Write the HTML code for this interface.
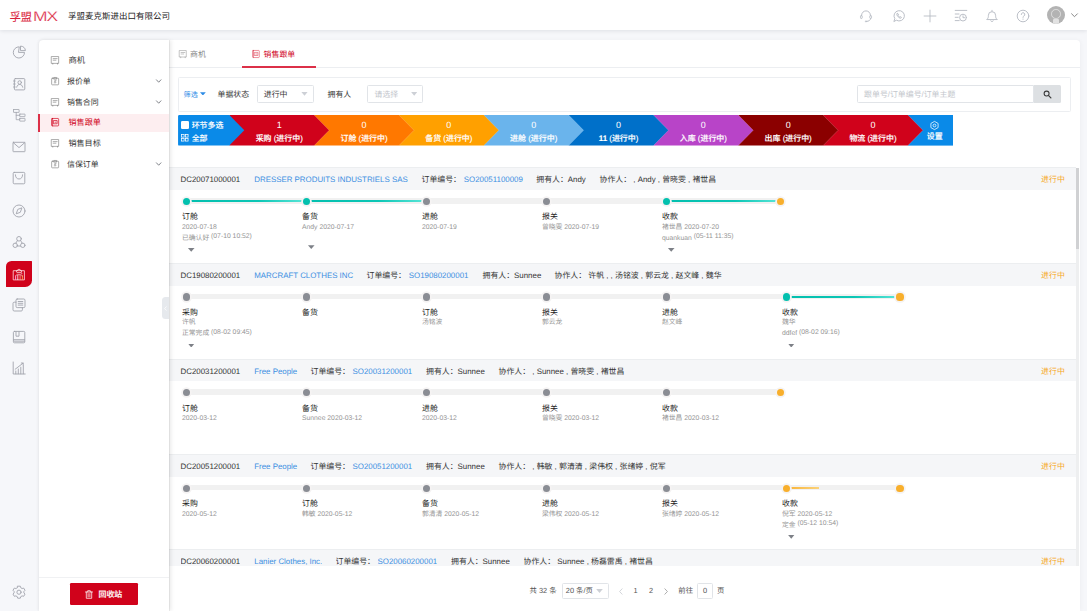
<!DOCTYPE html>
<html lang="zh"><head><meta charset="utf-8"><title>孚盟MX</title>
<style>
*{box-sizing:border-box;margin:0;padding:0}
html,body{text-rendering:geometricPrecision;width:1087px;height:611px;overflow:hidden;background:#f6f7fa;font-family:"Liberation Sans","Noto Sans CJK SC",sans-serif;font-size:7.9px;color:#333}
i{font-style:normal}
#hdr{position:absolute;left:0;top:0;width:1087px;height:30.3px;background:#fff;box-shadow:0 1px 4px rgba(0,21,41,.10);z-index:5}
#logo{position:absolute;left:9.4px;top:6.2px;height:20px;line-height:20px;color:#d9213a;font-size:11.5px;white-space:nowrap;letter-spacing:-.35px}
#logo b{display:inline-block;font-weight:normal;font-size:13.9px;letter-spacing:-.75px;margin-left:1.1px;position:relative;top:-.6px;-webkit-text-stroke:.22px #fff;transform:scaleX(1.25);transform-origin:0 50%}
#co{position:absolute;left:68px;top:6px;height:20px;line-height:20px;font-size:8.5px;color:#222;white-space:nowrap}
.hi{position:absolute;top:8.5px;width:14px;height:14px;overflow:visible}
.hi *{fill:none;stroke:#bcc0c8;stroke-width:1;stroke-linecap:round;stroke-linejoin:round}
#rail{position:absolute;left:0;top:30.5px;width:38.5px;height:581px;background:#f6f7fa}
.ri{position:absolute;left:11.5px;width:14px;height:14px;overflow:visible}
.ri *{fill:none;stroke:#a1a4ad;stroke-width:.9;stroke-linecap:round;stroke-linejoin:round}
#act{position:absolute;left:5.9px;top:230.6px;width:26.1px;height:26px;background:#d0021b;border-radius:5.5px .6px 6.800px .6px}
#side{position:absolute;left:38.5px;top:40px;width:130.5px;height:571px;background:#fff;border-radius:4px 0 0 0;box-shadow:.5px 0 0 rgba(0,0,0,.10),1.5px 0 4px rgba(0,0,0,.09),-1px 0 3px rgba(0,0,0,.04);z-index:4}
.mi{position:absolute;left:0;width:130.5px;height:17.5px;line-height:17.5px;white-space:nowrap;color:#333}
.mi span{position:absolute;left:29px;top:0}
.mi svg.ic{position:absolute;left:12.4px;top:4.3px;width:8.4px;height:8.4px;overflow:visible}
.mi svg.ic *{fill:none;stroke:#858585;stroke-width:.72;stroke-linecap:round;stroke-linejoin:round}
.mi svg.cv{position:absolute;left:117.3px;top:6.3px;width:5.4px;height:4.5px;overflow:visible}
.mi svg.cv *{fill:none;stroke:#5c6068;stroke-width:.85;stroke-linecap:round;stroke-linejoin:round}
.mi.on{background:#fdeef0;color:#d0021b;height:18.1px;line-height:18.3px}.mi.on::before{content:'';position:absolute;left:-.4px;top:0;width:1.9px;height:100%;background:#dc3048}
.mi.on span{left:30px;font-size:8.1px}
.mi.on svg.ic{left:12.7px}
.mi.on svg.ic *{stroke:#d0021b}
#trash{position:absolute;left:31px;top:542.5px;width:68px;height:22.7px;background:#d0021b;border-radius:1.2px;color:#fff;line-height:23.6px;font-size:7.9px;font-weight:500;-webkit-text-stroke:.16px #fff}
#trash span{position:absolute;left:29px;top:0}
#sep{position:absolute;left:0;top:536.6px;width:130.5px;height:1px;background:#f0f1f3}
#main{position:absolute;left:169px;top:40px;width:911px;height:571px;background:#fff;border-radius:0 4px 0 0;box-shadow:1px 0 4px rgba(0,0,0,.035)}
#coll{position:absolute;left:162.2px;top:297.1px;width:6.8px;height:22.3px;background:#e6e9ed;border-radius:3.5px 0 0 3.5px;z-index:5}
.abs{position:absolute}
#tabline{position:absolute;left:169px;top:66.8px;width:911px;height:1px;background:#eceef1}
#tabact{position:absolute;left:242px;top:66.3px;width:73.8px;height:1.4px;background:#dc3048}
.tab{position:absolute;top:45.5px;height:17.5px;line-height:17.5px;white-space:nowrap;font-size:7.9px}
#fbox{position:absolute;left:177.5px;top:77px;width:893.3px;height:34.9px;border:1px solid #eceef1;border-radius:1.5px;background:#fff}
.ft{position:absolute;top:85.6px;height:17.5px;line-height:17.5px;white-space:nowrap}
.sel{position:absolute;top:85px;height:17.5px;border:1px solid #e1e4e8;border-radius:1.5px;background:#fff;line-height:17.6px;white-space:nowrap}
.dn{position:absolute;width:6.6px;height:3.9px;background:#cdd0d6;clip-path:polygon(0 0,100% 0,50% 100%)}
.cn{font-size:9px;fill:#fff;font-family:"Liberation Sans",sans-serif}
.cl{font-size:7.95px;font-weight:500;fill:#fff;stroke:#fff;stroke-width:.16px;font-family:"Liberation Sans","Noto Sans CJK SC",sans-serif}
.rh{position:absolute;left:169px;width:907.1px;height:22.7px;background:#f5f6f8;border-top:1px solid #eceef0}
.ht{position:absolute;height:22.5px;line-height:25px;white-space:nowrap;font-size:7.9px;color:#333}
.ht.b{color:#3c8fe2}
.ht.st{color:#f5a623}
.trk{position:absolute;height:5.6px;background:#f1f1f1;border-radius:2.8px}
.ln{position:absolute;height:2.4px}
.ln.gl{background:linear-gradient(90deg,#03bfae 0%,#0cc6b5 60%,#5be6d8 100%)}
.ln.ol{background:linear-gradient(90deg,#f9b233,#fbd27a)}
.dot{position:absolute;width:7.2px;height:7.2px;border-radius:50%;box-shadow:0 0 0 1.8px #f5f3f3;background:#8a8d94}
.dot.g{background:#03c0ae}
.dot.o{background:#f8af2c}
.tt{position:absolute;height:11px;line-height:11px;font-size:7.9px;color:#222;white-space:nowrap}
.sb{position:absolute;height:10px;line-height:10px;font-size:6.8px;color:#959595;white-space:nowrap}
.sb em{font-style:normal;position:relative;top:-1.4px}
.tri{position:absolute;width:6.6px;height:3.9px;background:#7d8087;clip-path:polygon(0 0,100% 0,50% 100%)}
#pgbg{position:absolute;left:169px;top:566px;width:910.3px;height:45px;background:#fff;z-index:2}
.pg{position:absolute;z-index:3;top:582px;height:17.5px;line-height:17.5px;white-space:nowrap;font-size:7.4px;color:#555}
.pbox{position:absolute;z-index:3;top:583px;height:15.6px;border:1px solid #e1e4e8;border-radius:1.5px;background:#fff}
#sbar{position:absolute;left:1076.1px;top:167.8px;width:2.8px;height:81.5px;background:#d0d1d3;z-index:3}#strk{position:absolute;left:1076.1px;top:167.5px;width:2.8px;height:398.5px;background:#eeeff0;z-index:1}
.ri.w *{stroke:#fff}.ri.w .p{stroke:#ffc9b0}
</style></head><body>
<div id="hdr">
<div id="logo">孚盟<b>MX</b></div>
<div id="co">孚盟麦克斯进出口有限公司</div>
<!-- header icons -->
<svg class="hi" style="left:858.7px" viewBox="0 0 14 14"><path d="M2.600 6.800V6.300a4.400 4.400 0 0 1 8.800 0v.5"/><rect x="1.500" y="6.500" width="1.700" height="3" rx=".8"/><rect x="10.800" y="6.500" width="1.700" height="3" rx=".8"/><path d="M11.600 9.500c0 1.700-1.600 2.800-4 2.900"/><circle cx="7" cy="12.400" r=".6"/></svg>
<svg class="hi" style="left:892px" viewBox="0 0 14 14"><path d="M2 12.2l.8-2.6A5.2 5.2 0 1 1 4.7 11.4z"/><path d="M5.2 4.6c-.5.4-.5 1.300.3 2.400s2.200 2.300 3.100 2.200c.6-.1.900-.6.800-.9l-1-.6-.6.500c-.6-.2-1.500-1.100-1.700-1.700l.5-.6-.5-1.100c-.3-.3-.6-.3-.9-.2z"/></svg>
<svg class="hi" style="left:922.6px" viewBox="0 0 14 14"><path d="M7 1.100v11.800M1.100 7h11.800" style="stroke-width:.85;stroke:#b4b8c0"/></svg>
<svg class="hi" style="left:953.8px" viewBox="0 0 14 14"><path d="M1.200 1.400h11.600M1.200 5h3.800M1.200 8.300h3M1.200 11.600h4"/><circle cx="9" cy="8.600" r="3.400"/><path d="M9 6.800v1.900h1.500"/></svg>
<svg class="hi" style="left:984.7px" viewBox="0 0 14 14"><path d="M2 10.300c1.200-1 1.400-2 1.400-4a3.600 3.600 0 0 1 7.200 0c0 2 .2 3 1.400 4z"/><path d="M5.800 11.800a1.300 1.300 0 0 0 2.400 0"/><path d="M7 2.200V1.300"/></svg>
<svg class="hi" style="left:1016.4px" viewBox="0 0 14 14"><circle cx="7" cy="7" r="5.800"/><path d="M5.300 5.500a1.750 1.750 0 1 1 2.600 1.500c-.6.400-.9.700-.9 1.400"/><path d="M7 10v.3"/></svg>
<div class="abs" style="left:1047.3px;top:6.3px;width:18px;height:18px;border-radius:50%;background:#b3b3b3;overflow:hidden"><div class="abs" style="left:4.200px;top:3.200px;width:9.600px;height:9.600px;border-radius:50%;border:1.300px solid #dedede"></div><div class="abs" style="left:6px;top:12.500px;width:6px;height:5px;background:#e2e2e2;border-radius:1px"></div></div>
<svg class="abs" style="left:1070.5px;top:13px;width:7px;height:5px;overflow:visible" viewBox="0 0 7 5"><path d="M.6.800l2.900 2.900L6.400.8" fill="none" stroke="#888" stroke-width="1" stroke-linecap="round" stroke-linejoin="round"/></svg>
</div>
<div id="rail">
<!-- y offsets relative to rail top 30.5 -->
<svg class="ri" style="top:14.5px" viewBox="0 0 14 14"><path d="M6.900 1.800A5.600 5.600 0 1 0 12.500 7.400H6.900z"/><path d="M8.900 1.100A4.500 4.500 0 0 1 13.400 5.600H8.900z"/></svg>
<svg class="ri" style="top:46px" viewBox="0 0 14 14"><rect x="2.400" y="1.600" width="10.400" height="11.300" rx=".9"/><path d="M1.400 4h1.900M1.400 7h1.900M1.400 10h1.900" style="stroke-width:.75"/><circle cx="7.700" cy="5.500" r="1.750"/><path d="M4.700 10.200c.4-1.900 1.500-2.700 3-2.700s2.600.8 3 2.700"/></svg>
<svg class="ri" style="top:77.800px" viewBox="0 0 14 14"><rect x="1.500" y="1.500" width="5.600" height="2.900" rx=".2" style="stroke-width:.8"/><rect x="7.700" y="6.100" width="5.300" height="2.500" rx=".2" style="stroke-width:.8"/><rect x="7.700" y="10.400" width="5.300" height="2.700" rx=".2" style="stroke-width:.8"/><path d="M4.200 4.400v7.300h3.500M4.200 7.300h3.500" style="stroke-width:.8"/></svg>
<svg class="ri" style="top:109.300px" viewBox="0 0 14 14"><rect x="1" y="2.300" width="12" height="9.400" rx=".5"/><path d="M1.200 2.600l5.800 5 5.800-5"/></svg>
<svg class="ri" style="top:140.500px" viewBox="0 0 14 14"><rect x="1.200" y="1.400" width="11.600" height="11.400" rx="1"/><path d="M3.400 3.800c0 2.600 1.500 4.200 3.600 4.200s3.600-1.600 3.600-4.200"/></svg>
<svg class="ri" style="top:173.400px" viewBox="0 0 14 14"><circle cx="7" cy="7" r="6"/><path d="M9.800 4.200L8.300 8.300 4.200 9.800l1.500-4.100z"/></svg>
<svg class="ri" style="top:204.500px" viewBox="0 0 14 14"><circle cx="7" cy="3.800" r="2.300"/><circle cx="3.200" cy="10.300" r="2.200"/><circle cx="10.800" cy="10.300" r="2.200"/><path d="M5.400 5.600L3.800 8.200M8.600 5.600l1.600 2.600M5.400 11h3.200"/></svg>
<div id="act"></div>
<svg class="ri w" style="top:236.800px" viewBox="0 0 14 14"><path d="M1.600 3.700h10.800v9.200H1.600z" style="stroke:#ffdfe2;stroke-width:.8;stroke-linejoin:miter"/><path d="M4.400 4.500c-.2-1 .8-1.500 1.500-1.200.2-1.400 2-1.400 2.200 0 .7-.3 1.700.2 1.500 1.200M5 5.700h4.300c.5 0 .8.500.5.900" style="stroke:#fff;stroke-width:.75"/><path d="M3.600 12.600V9.300c0-1 .9-1.600 1.900-1.600h3c1 0 1.900.6 1.900 1.600" style="stroke:#ffdfe2;stroke-width:.7"/><path d="M3.600 12.600V9" style="stroke:#ff86c8;stroke-width:.85"/><path d="M5.800 12.600V8.300" style="stroke:#fff;stroke-width:.8"/><path d="M8.100 12.600V8.300" style="stroke:#ffa792;stroke-width:.8"/><path d="M10.400 12.600V8.800" style="stroke:#ffa94d;stroke-width:.85"/></svg>
<svg class="ri" style="top:267.500px" viewBox="0 0 14 14"><rect x="4" y="1" width="9" height="8.600" rx="1.200"/><path d="M6.200 3.500h4.600M6.200 5.300h4.600M6.200 7.100h4.600"/><path d="M4 4.200H2.200A1.200 1.200 0 0 0 1 5.400v6.400A1.200 1.200 0 0 0 2.200 13h7a1.200 1.200 0 0 0 1.200-1.200V9.600"/></svg>
<svg class="ri" style="top:299.300px" viewBox="0 0 14 14"><rect x="1.400" y="1.400" width="11.400" height="11.400" rx="1"/><path d="M4 1.600v4.600h3V1.600"/><path d="M1.600 9.700h11M2 11.200h10.600" /></svg>
<svg class="ri" style="top:330.700px" viewBox="0 0 14 14"><path d="M1.200 1v12h12"/><path d="M3.800 12.800V10M6.300 12.800V8M8.800 12.800V6.200M11.300 12.800V4.500"/><path d="M3.200 8.200L11 2.200M9.300 2h1.900v1.900"/></svg>
<svg class="ri" style="top:554.300px;left:11.800px" viewBox="0 0 14 14"><path d="M5.700 1.200h2.600l.5 1.600 1.300.7 1.600-.4 1.300 2.200-1.100 1.200v1.400l1.100 1.200-1.300 2.200-1.600-.4-1.300.7-.5 1.600H5.700l-.5-1.600-1.300-.7-1.600.4L1 9.100l1.100-1.200V6.500L1 5.300l1.300-2.200 1.600.4 1.300-.7z"/><circle cx="7" cy="7.200" r="2.100"/></svg>
</div>
<div id="side">
<div class="mi" style="top:11.800px"><svg class="ic" viewBox="0 0 9 9"><path d="M.7.600h7.500v7.300H.7z"/><path d="M2.300 2.800h4.300M2.300 4.500h3"/><path d="M1.900 7.900v.8M7 7.900v.8"/></svg><span style="left:29.900px;font-size:8.400px">商机</span></div>
<div class="mi" style="top:32.500px"><svg class="ic" viewBox="0 0 9 9"><rect x=".7" y="1.300" width="7.500" height="7.100" rx=".7"/><path d="M2.900 1.900V.5h3.100v1.400z"/><path d="M5.400 3.900H4.100c-.55 0-.55 1.100 0 1.100h.8c.6 0 .6 1.200 0 1.200H3.500"/></svg><span style="left:28.500px">报价单</span><svg class="cv" viewBox="0 0 6 5"><path d="M.5.900l2.500 2.700L5.500.9"/></svg></div>
<div class="mi" style="top:53.600px"><svg class="ic" viewBox="0 0 9 9"><path d="M.7.600h7.500v7.300H.7z"/><path d="M2.300 2.800h4.300M2.300 4.500h3"/><path d="M1.900 7.900v.8M7 7.900v.8"/></svg><span style="left:28.500px">销售合同</span><svg class="cv" viewBox="0 0 6 5"><path d="M.5.900l2.500 2.700L5.500.9"/></svg></div>
<div class="mi on" style="top:74px"><svg class="ic" viewBox="0 0 9 9"><path d="M1.300.500h6.200c.4 0 .7.300.7.700v6.600c0 .4-.3.700-.7.700H1.300c-.4 0-.7-.3-.7-.7V1.200c0-.4.300-.7.700-.7z"/><path d="M1.700.600v7.800"/><rect x="3" y="2.700" width="3.600" height="3.500"/><path d="M4.200 4.500h1.200"/></svg><span>销售跟单</span></div>
<div class="mi" style="top:95px"><svg class="ic" viewBox="0 0 9 9"><path d="M.7.600h7.500v7.300H.7z"/><path d="M2.300 2.800h4.300M2.300 4.500h3"/><path d="M1.900 7.900v.8M7 7.900v.8"/></svg><span style="left:29.900px;font-size:8.100px">销售目标</span></div>
<div class="mi" style="top:116px"><svg class="ic" viewBox="0 0 9 9"><rect x=".7" y="1.300" width="7.500" height="7.100" rx=".7"/><path d="M2.900 1.900V.5h3.100v1.400z"/><path d="M5.400 3.900H4.100c-.55 0-.55 1.100 0 1.100h.8c.6 0 .6 1.200 0 1.200H3.500"/></svg><span style="left:28.500px">信保订单</span><svg class="cv" viewBox="0 0 6 5"><path d="M.5.900l2.500 2.700L5.500.9"/></svg></div>
<div id="sep"></div>
<div id="trash"><svg class="abs" style="left:15.800px;top:7px;width:8px;height:9px;overflow:visible" viewBox="0 0 8 9"><path d="M.5 2h7M2.700 2V.7h2.600V2M1.300 2v6.300h5.400V2M3.100 3.600v3.300M4.900 3.600v3.300" fill="none" stroke="#fff" stroke-width=".75" stroke-linecap="round" stroke-linejoin="round"/></svg><span>回收站</span></div>
</div>
<div id="main"></div>
<div id="coll"><svg class="abs" style="left:1.600px;top:8.500px;width:3px;height:5px;overflow:visible" viewBox="0 0 3 5"><path d="M2.500.5L.6 2.500l1.900 2" fill="none" stroke="#fff" stroke-width=".8"/></svg></div>
<!-- tabs -->
<div id="tabline"></div><div id="tabl"></div><div id="tabact"></div>
<svg class="abs" style="left:179px;top:49.500px;width:8px;height:8px;overflow:visible" viewBox="0 0 9 9"><g fill="none" stroke="#9a9a9a" stroke-width=".65" stroke-linejoin="round" stroke-linecap="round"><path d="M.7.600h7.500v7.300H.7z"/><path d="M2.300 2.800h4.300M2.300 4.500h3"/><path d="M1.900 7.900v.8M7 7.900v.8"/></g></svg>
<span class="tab" style="left:190px;color:#888">商机</span>
<svg class="abs" style="left:252.300px;top:49.500px;width:8px;height:8px;overflow:visible" viewBox="0 0 9 9"><g fill="none" stroke="#dc3a50" stroke-width=".62" stroke-linejoin="round" stroke-linecap="round"><path d="M1.300.500h6.200c.4 0 .7.300.7.700v6.600c0 .4-.3.700-.7.700H1.300c-.4 0-.7-.3-.7-.7V1.200c0-.4.300-.7.700-.7z"/><path d="M1.700.600v7.800"/><rect x="3" y="2.700" width="3.600" height="3.500"/><path d="M4.200 4.500h1.200"/></g></svg>
<span class="tab" style="left:263.600px;color:#d0021b">销售跟单</span>
<!-- filter -->
<div id="fbox"></div>
<span class="ft" style="left:183.600px;top:86.500px;color:#2e8ce6;font-size:7.100px">筛选</span>
<i class="dn" style="left:200px;top:92.200px;background:#2e8ce6;width:5.800px;height:3.300px"></i>
<span class="ft" style="left:217.500px">单据状态</span>
<div class="sel" style="left:256.800px;width:57px"><span class="abs" style="left:6px;top:0">进行中</span></div>
<i class="dn" style="left:301.200px;top:91.800px"></i>
<span class="ft" style="left:327.500px">拥有人</span>
<div class="sel" style="left:367px;width:56.300px"><span class="abs" style="left:6.500px;top:0;color:#c3c6cc;font-size:7.900px">请选择</span></div>
<i class="dn" style="left:410.900px;top:91.800px"></i>
<div class="sel" style="left:857.300px;width:177.200px;border-radius:1.500px 0 0 1.500px"><span class="abs" style="left:5.800px;top:0;color:#c3c6cc;font-size:7.900px">跟单号/订单编号/订单主题</span></div>
<div class="abs" style="left:1033.700px;top:85px;width:27.300px;height:17.500px;background:#dde0e3;border-radius:0 1.500px 1.500px 0"><svg class="abs" style="left:9.300px;top:4.600px;width:9px;height:9px;overflow:visible" viewBox="0 0 8 8"><circle cx="3.200" cy="3.200" r="2.200" fill="none" stroke="#3a3a3a" stroke-width=".95"/><path d="M5 5l2 2" stroke="#3a3a3a" stroke-width="1.150" stroke-linecap="round"/></svg></div>
<svg id="chev" width="775.5" height="30.6" viewBox="0 0 775.5 30.6" style="position:absolute;left:177.5px;top:115.2px"><rect x="729.97" y="0" width="45.52999999999997" height="30.6" fill="#0a8ae8"/><polygon points="645.13,0 729.97,0 744.97,15.3 729.97,30.6 645.13,30.6" fill="#d0021b"/><polyline points="729.97,0 744.97,15.3 729.97,30.6" fill="none" stroke="rgba(255,255,255,.35)" stroke-width=".5"/><polygon points="560.29,0 645.13,0 660.13,15.3 645.13,30.6 560.29,30.6" fill="#8b0000"/><polyline points="645.13,0 660.13,15.3 645.13,30.6" fill="none" stroke="rgba(255,255,255,.35)" stroke-width=".5"/><polygon points="475.45,0 560.29,0 575.29,15.3 560.29,30.6 475.45,30.6" fill="#b844c8"/><polyline points="560.29,0 575.29,15.3 560.29,30.6" fill="none" stroke="rgba(255,255,255,.35)" stroke-width=".5"/><polygon points="390.61,0 475.45,0 490.45,15.3 475.45,30.6 390.61,30.6" fill="#0070c9"/><polyline points="475.45,0 490.45,15.3 475.45,30.6" fill="none" stroke="rgba(255,255,255,.35)" stroke-width=".5"/><polygon points="305.77,0 390.61,0 405.61,15.3 390.61,30.6 305.77,30.6" fill="#6ab4ec"/><polyline points="390.61,0 405.61,15.3 390.61,30.6" fill="none" stroke="rgba(255,255,255,.35)" stroke-width=".5"/><polygon points="220.93,0 305.77,0 320.77,15.3 305.77,30.6 220.93,30.6" fill="#ffa000"/><polyline points="305.77,0 320.77,15.3 305.77,30.6" fill="none" stroke="rgba(255,255,255,.35)" stroke-width=".5"/><polygon points="136.09,0 220.93,0 235.93,15.3 220.93,30.6 136.09,30.6" fill="#ff7800"/><polyline points="220.93,0 235.93,15.3 220.93,30.6" fill="none" stroke="rgba(255,255,255,.35)" stroke-width=".5"/><polygon points="51.25,0 136.09,0 151.09,15.3 136.09,30.6 51.25,30.6" fill="#d0021b"/><polyline points="136.09,0 151.09,15.3 136.09,30.6" fill="none" stroke="rgba(255,255,255,.35)" stroke-width=".5"/><path d="M1.2,0 H51.25 L66.25,15.3 L51.25,30.6 H1.2 Q0,30.6 0,29.400000000000002 V1.2 Q0,0 1.2,0z" fill="#0a8ae8"/><text x="101.17" y="12.7" text-anchor="middle" class="cn">1</text><text x="101.17" y="25.8" text-anchor="middle" class="cl">采购 (进行中)</text><text x="186.01" y="12.7" text-anchor="middle" class="cn">0</text><text x="186.01" y="25.8" text-anchor="middle" class="cl">订舱 (进行中)</text><text x="270.85" y="12.7" text-anchor="middle" class="cn">0</text><text x="270.85" y="25.8" text-anchor="middle" class="cl">备货 (进行中)</text><text x="355.69" y="12.7" text-anchor="middle" class="cn">0</text><text x="355.69" y="25.8" text-anchor="middle" class="cl">进舱 (进行中)</text><text x="440.53" y="12.7" text-anchor="middle" class="cn">0</text><text x="440.53" y="25.8" text-anchor="middle" class="cl"><tspan font-weight="bold">11</tspan> (进行中)</text><text x="525.37" y="12.7" text-anchor="middle" class="cn">0</text><text x="525.37" y="25.8" text-anchor="middle" class="cl">入库 (进行中)</text><text x="610.21" y="12.7" text-anchor="middle" class="cn">0</text><text x="610.21" y="25.8" text-anchor="middle" class="cl">出库 (进行中)</text><text x="695.05" y="12.7" text-anchor="middle" class="cn">0</text><text x="695.05" y="25.8" text-anchor="middle" class="cl">物流 (进行中)</text></svg>
<!-- first chevron block content -->
<div class="abs" style="left:180.800px;top:121px;width:8.700px;height:8.200px;background:#fff;border-radius:1.300px"></div>
<span class="abs" style="left:191.700px;top:119.900px;height:12px;line-height:12px;color:#fff;font-size:7.950px;white-space:nowrap;font-weight:500;-webkit-text-stroke:.1px #fff">环节多选</span>
<svg class="abs" style="left:181.300px;top:133.900px;width:7.500px;height:7.500px;overflow:visible" viewBox="0 0 7 7"><g fill="none" stroke="#fff" stroke-width=".7"><rect x=".4" y=".4" width="2.500" height="2.500"/><rect x="4.100" y=".4" width="2.500" height="2.500"/><rect x=".4" y="4.100" width="2.500" height="2.500"/><rect x="4.100" y="4.100" width="2.500" height="2.500"/></g></svg>
<span class="abs" style="left:191.700px;top:132.700px;height:12px;line-height:12px;color:#fff;font-size:7.950px;white-space:nowrap;font-weight:500;-webkit-text-stroke:.1px #fff">全部</span>
<!-- settings -->
<svg class="abs" style="left:930px;top:121px;width:9px;height:9px;overflow:visible" viewBox="0 0 9 9"><g fill="none" stroke="#fff" stroke-width=".75" stroke-linejoin="round"><path d="M4.500.4l3.600 2.050v4.100L4.500 8.600.9 6.550v-4.100z"/><circle cx="4.500" cy="4.500" r="1.400"/></g></svg>
<span class="abs" style="left:926.800px;top:130.500px;height:12px;line-height:12px;color:#fff;font-size:7.950px;white-space:nowrap;font-weight:500;-webkit-text-stroke:.16px #fff">设置</span>
<!-- rows -->
<div class="rh" style="top:167.3px"></div><span class="ht k" style="left:180.5px;top:167.3px">DC20071000001</span><span class="ht b" style="left:254.25px;top:167.3px">DRESSER PRODUITS INDUSTRIELS SAS</span><span class="ht k" style="left:421.5px;top:167.3px">订单编号：</span><span class="ht b" style="left:463.75px;top:167.3px">SO20051100009</span><span class="ht k" style="left:536.25px;top:167.3px">拥有人：Andy</span><span class="ht k" style="left:599.5px;top:167.3px">协作人：&nbsp;, Andy , 曾晓雯 , 褚世昌</span><span class="ht st" style="left:1041.1px;top:167.3px">进行中</span><div class="trk" style="left:186.25px;top:197.95000000000002px;width:594.25px"></div><div class="ln gl" style="left:186.25px;top:199.9px;width:120.0px"></div><div class="ln gl" style="left:306.25px;top:199.9px;width:120.0px"></div><div class="ln gl" style="left:666.25px;top:199.9px;width:114.25px"></div><i class="dot g" style="left:182.65px;top:197.8px"></i><span class="tt" style="left:182.0px;top:211.3px">订舱</span><span class="sb" style="left:182.0px;top:222.70000000000002px">2020-07-18</span><span class="sb" style="left:182.0px;top:233.8px">已确认好 <em>(07-10 10:52)</em></span><i class="tri" style="left:187.95px;top:247.9px"></i><i class="dot g" style="left:302.65px;top:197.8px"></i><span class="tt" style="left:302.0px;top:211.3px">备货</span><span class="sb" style="left:302.0px;top:222.70000000000002px">Andy 2020-07-17</span><i class="tri" style="left:307.95px;top:245.20000000000002px"></i><i class="dot n" style="left:422.65px;top:197.8px"></i><span class="tt" style="left:422.0px;top:211.3px">进舱</span><span class="sb" style="left:422.0px;top:222.70000000000002px">2020-07-19</span><i class="dot n" style="left:542.65px;top:197.8px"></i><span class="tt" style="left:542.0px;top:211.3px">报关</span><span class="sb" style="left:542.0px;top:222.70000000000002px">曾晓雯 2020-07-19</span><i class="dot g" style="left:662.65px;top:197.8px"></i><span class="tt" style="left:662.0px;top:211.3px">收款</span><span class="sb" style="left:662.0px;top:222.70000000000002px">褚世昌 2020-07-20</span><span class="sb" style="left:662.0px;top:233.8px">quankuan <em>(05-11 11:35)</em></span><i class="tri" style="left:667.95px;top:247.9px"></i><i class="dot o" style="left:776.9px;top:197.8px"></i>
<div class="rh" style="top:262.9px"></div><span class="ht k" style="left:180.5px;top:262.9px">DC19080200001</span><span class="ht b" style="left:254.25px;top:262.9px">MARCRAFT CLOTHES INC</span><span class="ht k" style="left:366.5px;top:262.9px">订单编号：</span><span class="ht b" style="left:408.75px;top:262.9px">SO19080200001</span><span class="ht k" style="left:482.5px;top:262.9px">拥有人：Sunnee</span><span class="ht k" style="left:554.5px;top:262.9px">协作人：&nbsp;许帆 , , 汤铭波 , 郭云龙 , 赵文峰 , 魏华</span><span class="ht st" style="left:1041.1px;top:262.9px">进行中</span><div class="trk" style="left:186.25px;top:293.54999999999995px;width:713.75px"></div><div class="ln gl" style="left:786.25px;top:295.5px;width:113.75px"></div><i class="dot n" style="left:182.65px;top:293.4px"></i><span class="tt" style="left:182.0px;top:306.9px">采购</span><span class="sb" style="left:182.0px;top:318.29999999999995px">许帆</span><span class="sb" style="left:182.0px;top:329.4px">正常完成 <em>(08-02 09:45)</em></span><i class="tri" style="left:187.95px;top:343.5px"></i><i class="dot n" style="left:302.65px;top:293.4px"></i><span class="tt" style="left:302.0px;top:306.9px">备货</span><i class="dot n" style="left:422.65px;top:293.4px"></i><span class="tt" style="left:422.0px;top:306.9px">订舱</span><span class="sb" style="left:422.0px;top:318.29999999999995px">汤铭波</span><i class="dot n" style="left:542.65px;top:293.4px"></i><span class="tt" style="left:542.0px;top:306.9px">报关</span><span class="sb" style="left:542.0px;top:318.29999999999995px">郭云龙</span><i class="dot n" style="left:662.65px;top:293.4px"></i><span class="tt" style="left:662.0px;top:306.9px">进舱</span><span class="sb" style="left:662.0px;top:318.29999999999995px">赵文峰</span><i class="dot g" style="left:782.65px;top:293.4px"></i><span class="tt" style="left:782.0px;top:306.9px">收款</span><span class="sb" style="left:782.0px;top:318.29999999999995px">魏华</span><span class="sb" style="left:782.0px;top:329.4px">ddfef <em>(08-02 09:16)</em></span><i class="tri" style="left:787.95px;top:343.5px"></i><i class="dot o" style="left:896.4px;top:293.4px"></i>
<div class="rh" style="top:358.5px"></div><span class="ht k" style="left:180.5px;top:358.5px">DC20031200001</span><span class="ht b" style="left:254.25px;top:358.5px">Free People</span><span class="ht k" style="left:310.5px;top:358.5px">订单编号：</span><span class="ht b" style="left:352.5px;top:358.5px">SO20031200001</span><span class="ht k" style="left:426px;top:358.5px">拥有人：Sunnee</span><span class="ht k" style="left:498.5px;top:358.5px">协作人：&nbsp;, Sunnee , 曾晓雯 , 褚世昌</span><span class="ht st" style="left:1041.1px;top:358.5px">进行中</span><div class="trk" style="left:186.25px;top:389.15px;width:594.25px"></div><i class="dot n" style="left:182.65px;top:389.0px"></i><span class="tt" style="left:182.0px;top:402.5px">订舱</span><span class="sb" style="left:182.0px;top:413.9px">2020-03-12</span><i class="dot n" style="left:302.65px;top:389.0px"></i><span class="tt" style="left:302.0px;top:402.5px">备货</span><span class="sb" style="left:302.0px;top:413.9px">Sunnee 2020-03-12</span><i class="dot n" style="left:422.65px;top:389.0px"></i><span class="tt" style="left:422.0px;top:402.5px">进舱</span><span class="sb" style="left:422.0px;top:413.9px">2020-03-12</span><i class="dot n" style="left:542.65px;top:389.0px"></i><span class="tt" style="left:542.0px;top:402.5px">报关</span><span class="sb" style="left:542.0px;top:413.9px">曾晓雯 2020-03-12</span><i class="dot n" style="left:662.65px;top:389.0px"></i><span class="tt" style="left:662.0px;top:402.5px">收款</span><span class="sb" style="left:662.0px;top:413.9px">褚世昌 2020-03-12</span><i class="dot o" style="left:776.9px;top:389.0px"></i>
<div class="rh" style="top:454.25px"></div><span class="ht k" style="left:180.5px;top:454.25px">DC20051200001</span><span class="ht b" style="left:254.25px;top:454.25px">Free People</span><span class="ht k" style="left:310.5px;top:454.25px">订单编号：</span><span class="ht b" style="left:352.5px;top:454.25px">SO20051200001</span><span class="ht k" style="left:426px;top:454.25px">拥有人：Sunnee</span><span class="ht k" style="left:498.5px;top:454.25px">协作人：&nbsp;, 韩敏 , 郭清清 , 梁伟权 , 张绪婷 , 倪军</span><span class="ht st" style="left:1041.1px;top:454.25px">进行中</span><div class="trk" style="left:186.25px;top:484.9px;width:713.75px"></div><div class="ln ol" style="left:786.25px;top:486.85px;width:33.0px"></div><i class="dot n" style="left:182.65px;top:484.75px"></i><span class="tt" style="left:182.0px;top:498.25px">采购</span><span class="sb" style="left:182.0px;top:509.65px">2020-05-12</span><i class="dot n" style="left:302.65px;top:484.75px"></i><span class="tt" style="left:302.0px;top:498.25px">订舱</span><span class="sb" style="left:302.0px;top:509.65px">韩敏 2020-05-12</span><i class="dot n" style="left:422.65px;top:484.75px"></i><span class="tt" style="left:422.0px;top:498.25px">备货</span><span class="sb" style="left:422.0px;top:509.65px">郭清清 2020-05-12</span><i class="dot n" style="left:542.65px;top:484.75px"></i><span class="tt" style="left:542.0px;top:498.25px">进舱</span><span class="sb" style="left:542.0px;top:509.65px">梁伟权 2020-05-12</span><i class="dot n" style="left:662.65px;top:484.75px"></i><span class="tt" style="left:662.0px;top:498.25px">报关</span><span class="sb" style="left:662.0px;top:509.65px">张绪婷 2020-05-12</span><i class="dot o" style="left:782.65px;top:484.75px"></i><span class="tt" style="left:782.0px;top:498.25px">收款</span><span class="sb" style="left:782.0px;top:509.65px">倪军 2020-05-12</span><span class="sb" style="left:782.0px;top:520.75px">定金 <em>(05-12 10:54)</em></span><i class="tri" style="left:787.95px;top:534.85px"></i><i class="dot o" style="left:896.4px;top:484.75px"></i>
<div class="rh" style="top:549.3px;height:16.7px"></div><span class="ht k" style="left:180.5px;top:549.3px;height:16.7px;overflow:hidden">DC20060200001</span><span class="ht b" style="left:254.25px;top:549.3px;height:16.7px;overflow:hidden">Lanier Clothes, Inc.</span><span class="ht k" style="left:335.5px;top:549.3px;height:16.7px;overflow:hidden">订单编号：</span><span class="ht b" style="left:377.5px;top:549.3px;height:16.7px;overflow:hidden">SO20060200001</span><span class="ht k" style="left:451px;top:549.3px;height:16.7px;overflow:hidden">拥有人：Sunnee</span><span class="ht k" style="left:523.5px;top:549.3px;height:16.7px;overflow:hidden">协作人：&nbsp;Sunnee , 杨磊雷禹 , 褚世昌</span><span class="ht st" style="left:1041.1px;top:549.3px;height:16.7px;overflow:hidden">进行中</span>
<div id="strk"></div><div id="sbar"></div>
<!-- pagination -->
<div id="pgbg"></div>
<span class="pg" style="left:529.500px">共 32 条</span>
<div class="pbox" style="left:562px;width:46.500px"></div>
<span class="pg" style="left:565.800px">20 条/页</span>
<i class="dn" style="left:596.200px;top:589px;z-index:3"></i>
<svg class="abs" style="left:618.800px;top:587.500px;width:4px;height:7px;z-index:3;overflow:visible" viewBox="0 0 4 7"><path d="M3.400.5L.6 3.500l2.800 3" fill="none" stroke="#c8cbd0" stroke-width=".8"/></svg>
<span class="pg" style="left:633.500px">1</span>
<span class="pg" style="left:649px">2</span>
<svg class="abs" style="left:664px;top:587.500px;width:4px;height:7px;z-index:3;overflow:visible" viewBox="0 0 4 7"><path d="M.6.500l2.800 3-2.800 3" fill="none" stroke="#999" stroke-width=".8"/></svg>
<span class="pg" style="left:678.300px">前往</span>
<div class="pbox" style="left:697px;width:16.300px"></div>
<span class="pg" style="left:703px">0</span>
<span class="pg" style="left:717px">页</span>
</body></html>
